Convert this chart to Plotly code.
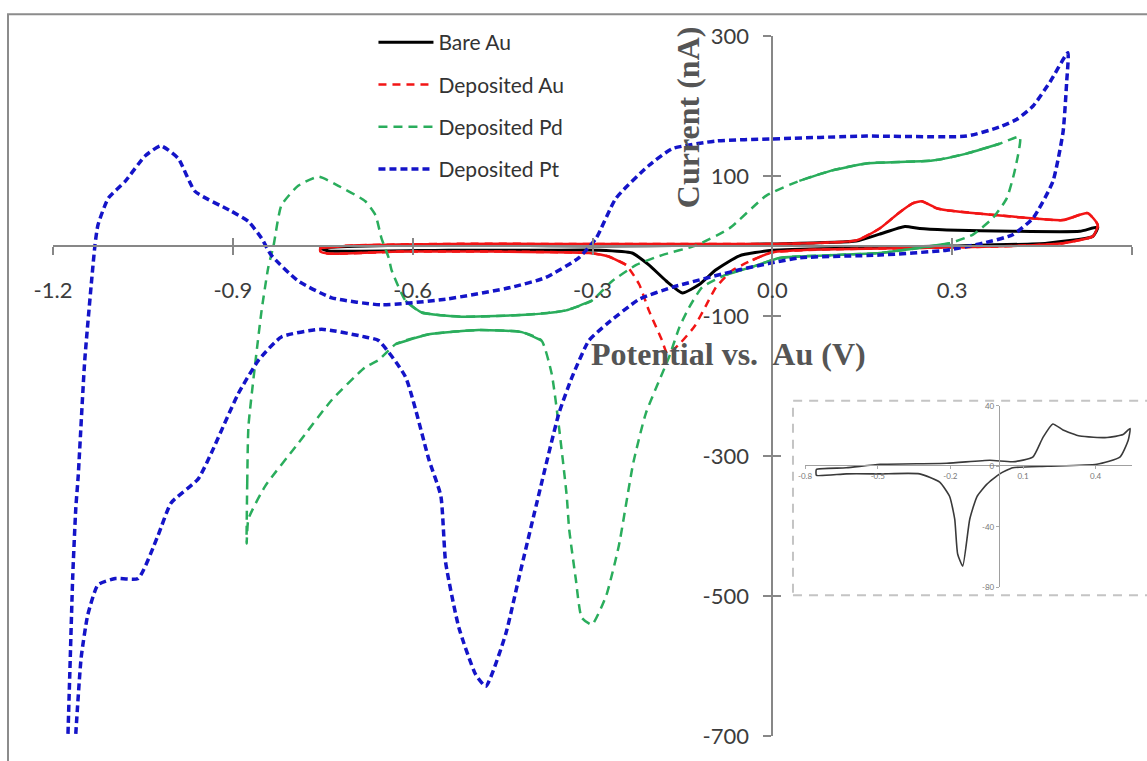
import plotly.graph_objects as go

# ---------------- data (potential V, current nA) ----------------
bare_x = [-0.754, -0.623, -0.456, -0.289, -0.122, 0.0, 0.140, 0.179, 0.221, 0.246, 0.291, 0.401, 0.513, 0.543,
          0.535, 0.458, 0.291, 0.129, 0.0, -0.055, -0.094, -0.122, -0.150, -0.177, -0.206, -0.234, -0.289,
          -0.373, -0.540, -0.740, -0.754]
bare_y = [-3, 1, 1, 0, 1, 3, 7, 17, 28, 25, 23, 21, 21, 27,
          14, 4, 0, -3, -6, -14, -34, -55, -67, -50, -27, -10, -6,
          -6, -6, -7, -3]

au_x = [-0.754, -0.690, -0.540, -0.373, -0.206, 0.012, 0.140, 0.179, 0.212, 0.234, 0.249, 0.274, 0.291, 0.401,
        0.485, 0.526, 0.543, 0.535, 0.485, 0.401, 0.234, 0.080, 0.0, -0.033, -0.067, -0.094, -0.110, -0.130,
        -0.155, -0.175, -0.184, -0.206, -0.222, -0.244, -0.273, -0.306, -0.456, -0.623, -0.740, -0.754, -0.754]
au_y = [-3, 1, 3, 3, 3, 3, 8, 25, 48, 61, 64, 54, 51, 42,
        37, 47, 30, 14, 4, 0, -3, -5, -9, -20, -35, -59, -84, -115,
        -140, -154, -135, -92, -55, -27, -15, -10, -8, -8, -11, -8, -3]

pd_x = [-0.877, -0.876, -0.874, -0.862, -0.852, -0.841, -0.832, -0.819, -0.791, -0.757, -0.724, -0.679,
        -0.662, -0.652, -0.640, -0.635, -0.612, -0.585, -0.518, -0.406, -0.344, -0.301, -0.267, -0.227,
        -0.184, -0.127, -0.072, -0.010, 0.045, 0.100, 0.157, 0.267, 0.324, 0.379, 0.413,
        0.404, 0.391, 0.368, 0.334, 0.296, 0.179, 0.012, -0.027, -0.077, -0.117, -0.139, -0.155, -0.172,
        -0.211, -0.232, -0.256, -0.277, -0.301, -0.318, -0.328, -0.339, -0.343, -0.356, -0.368, -0.385,
        -0.418, -0.490, -0.573, -0.628, -0.657, -0.679, -0.735, -0.791, -0.846, -0.874, -0.877]
pd_y = [-425, -339, -258, -163, -92, -31, 1, 58, 86, 99, 86, 64,
        44, 11, -17, -35, -78, -95, -101, -98, -92, -78, -50, -27,
        -13, 1, 25, 72, 93, 108, 118, 122, 132, 146, 156,
        106, 68, 40, 16, 4, -10, -17, -28, -41, -59, -88, -116, -158,
        -239, -310, -428, -499, -541, -531, -475, -404, -357, -258, -183, -135,
        -123, -120, -126, -140, -163, -173, -220, -282, -343, -390, -425]

pt_x = [-1.175, -1.172, -1.167, -1.162, -1.158, -1.147, -1.130, -1.125, -1.108, -1.080, -1.046, -1.020,
        -0.991, -0.963, -0.903, -0.874, -0.852, -0.836, -0.791, -0.735, -0.652, -0.545, -0.435, -0.378,
        -0.323, -0.294, -0.261, -0.206, -0.167, -0.094, 0.0, 0.157, 0.324, 0.379, 0.408, 0.435, 0.463, 0.493,
        0.491, 0.485, 0.468, 0.435, 0.401, 0.351, 0.291, 0.179, 0.045, -0.055, -0.167, -0.222, -0.277,
        -0.306, -0.334, -0.356, -0.389, -0.423, -0.445, -0.478, -0.495, -0.523, -0.545, -0.553, -0.573,
        -0.612, -0.657, -0.679, -0.752, -0.819, -0.857, -0.891, -0.936, -0.958, -1.003, -1.025, -1.058,
        -1.096, -1.125, -1.142, -1.153, -1.162]
pt_y = [-697, -612, -470, -375, -329, -163, 1, 30, 68, 92, 129, 143,
        125, 78, 50, 35, 11, -13, -50, -74, -84, -76, -59, -45,
        -17, 11, 68, 115, 139, 150, 153, 157, 157, 170, 181, 200, 234, 276,
        234, 163, 92, 40, 16, 4, -6, -13, -17, -34, -59, -76, -112,
        -135, -187, -239, -353, -475, -555, -629, -612, -545, -452, -357, -305,
        -187, -135, -130, -119, -130, -163, -211, -296, -333, -367, -414, -475,
        -475, -484, -527, -588, -697]

# inset: bare Au, magnified
inset_x = [-0.755, -0.753, -0.63, -0.49, -0.215, -0.037, 0.058, 0.14, 0.182, 0.223, 0.265, 0.335, 0.447,
           0.513, 0.542, 0.534, 0.5, 0.405, 0.2, 0.058, 0.004, -0.05, -0.09, -0.12, -0.149, -0.17, -0.182,
           -0.203, -0.244, -0.327, -0.49, -0.63, -0.753, -0.755]
inset_y = [-4, -2, -1, 1.3, 2, 4, 3, 6, 19, 28, 24, 20, 19,
           21, 25, 17, 6, 1.3, 0, -1, -5, -12, -20, -35, -66, -58, -35,
           -20, -10.5, -5, -5, -5, -6, -4]

series_names = ["Bare Au", "Deposited Au", "Deposited Pd", "Deposited Pt"]

# tick values / labels
x_ticks = [-1.2, -0.9, -0.6, -0.3, 0.0, 0.3, 0.6]
x_labels = ["-1.2", "-0.9", "-0.6", "-0.3", "0.0", "0.3", "0.6"]
y_ticks = [-700, -500, -300, -100, 100, 300]
y_labels = ["-700", "-500", "-300", "-100", "100", "300"]
inset_x_ticks = [-0.8, -0.5, -0.2, 0.1, 0.4]
inset_x_labels = ["-0.8", "-0.5", "-0.2", "0.1", "0.4"]
inset_y_ticks = [-80, -40, 0, 40]
inset_y_labels = ["-80", "-40", "0", "40"]

# index ranges of loops that appear as continuous (solid) strokes
AU_SOLID = [(0, 24), (33, 41)]
PD_SOLID = [(16, 22), (28, 34), (39, 44), (59, 64)]

# ---------------- figure ----------------
fig = go.Figure()
RED, GREEN, BLUE = "#f21515", "#2aad5c", "#1414c8"

fig.add_trace(go.Scatter(x=bare_x, y=bare_y, name=series_names[0], mode="lines",
                         line=dict(color="black", width=3, shape="spline", smoothing=0.5),
                         legendgroup="a", legendrank=1))
fig.add_trace(go.Scatter(x=au_x, y=au_y, name=series_names[1], mode="lines",
                         line=dict(color=RED, width=2.5, dash="8px,6px", shape="spline", smoothing=0.5),
                         legendgroup="b", legendrank=2))
for a, b in AU_SOLID:
    fig.add_trace(go.Scatter(x=au_x[a:b], y=au_y[a:b], mode="lines", showlegend=False, legendgroup="b",
                             line=dict(color=RED, width=2.5, shape="spline", smoothing=0.5), hoverinfo="skip"))
fig.add_trace(go.Scatter(x=pd_x, y=pd_y, name=series_names[2], mode="lines",
                         line=dict(color=GREEN, width=2.5, dash="9px,6px", shape="spline", smoothing=0.5),
                         legendgroup="c", legendrank=3))
for a, b in PD_SOLID:
    fig.add_trace(go.Scatter(x=pd_x[a:b], y=pd_y[a:b], mode="lines", showlegend=False, legendgroup="c",
                             line=dict(color=GREEN, width=2.5, shape="spline", smoothing=0.5), hoverinfo="skip"))
fig.add_trace(go.Scatter(x=pt_x, y=pt_y, name=series_names[3], mode="lines",
                         line=dict(color=BLUE, width=3.5, dash="7px,4px", shape="spline", smoothing=0.5),
                         legendgroup="d", legendrank=4))

# helper trace for cross-tick overlay axes
fig.add_trace(go.Scatter(x=[None], y=[None], xaxis="x2", yaxis="y2", showlegend=False, hoverinfo="skip"))
# inset
fig.add_trace(go.Scatter(x=inset_x, y=inset_y, xaxis="x3", yaxis="y3", mode="lines", showlegend=False,
                         line=dict(color="#3a3a3a", width=1.6, shape="spline", smoothing=0.5), hoverinfo="skip"))

AX = "#878787"
TF = dict(family="Lato, Carlito, sans-serif", size=22, color="#3c3c3c")
common = dict(showgrid=False, zeroline=False, showline=True, linecolor=AX, linewidth=2,
              tickcolor=AX, tickwidth=2, ticklen=8)
IF = dict(family="Lato, sans-serif", size=8, color="#777")
fig.update_layout(
    width=1147, height=761,
    margin=dict(l=53, r=15, t=36, b=19),
    paper_bgcolor="white", plot_bgcolor="white",
    xaxis=dict(range=[-1.2, 0.6], anchor="free", position=0.7, ticks="outside", tickmode="array",
               tickvals=x_ticks, ticktext=x_labels, tickfont=TF, ticklabelstandoff=17, **common),
    yaxis=dict(range=[-700, 300], anchor="free", position=1.2 / 1.8, ticks="outside", tickmode="array",
               tickvals=y_ticks, ticktext=y_labels, tickfont=TF, ticklabelstandoff=10, **common),
    xaxis2=dict(range=[-1.2, 0.6], overlaying="x", anchor="free", position=0.7, ticks="inside",
                tickmode="array", tickvals=x_ticks, showticklabels=False, showgrid=False, zeroline=False,
                showline=False, tickcolor=AX, tickwidth=2, ticklen=8),
    yaxis2=dict(range=[-700, 300], overlaying="y", anchor="free", position=1.2 / 1.8, ticks="inside",
                tickmode="array", tickvals=y_ticks, showticklabels=False, showgrid=False, zeroline=False,
                showline=False, tickcolor=AX, tickwidth=2, ticklen=8),
    xaxis3=dict(domain=[0.697, 1.0], range=[-0.8, 0.55], anchor="free", position=0.3867, tickmode="array",
                tickvals=inset_x_ticks, ticktext=inset_x_labels, ticks="outside", ticklen=3, tickcolor="#aaa",
                showgrid=False, zeroline=False, showline=True, linecolor="#a0a0a0", linewidth=1.3, tickfont=IF),
    yaxis3=dict(domain=[0.2125, 0.4717], range=[-80, 40], anchor="free", position=0.8767, tickmode="array",
                tickvals=inset_y_ticks, ticktext=inset_y_labels, ticks="outside", ticklen=3, tickcolor="#aaa",
                showgrid=False, zeroline=False, showline=True, linecolor="#a0a0a0", linewidth=1.3, tickfont=IF),
    legend=dict(x=0.297, y=1.02, xanchor="left", yanchor="top", bgcolor="rgba(0,0,0,0)",
                font=dict(family="Lato, Carlito, sans-serif", size=21, color="#333"),
                tracegroupgap=12, itemwidth=55),
    annotations=[
        dict(text="<b>Current (nA)</b>", xref="paper", yref="paper", x=0.5885, y=0.884, showarrow=False,
             xanchor="center", yanchor="middle", textangle=-90,
             font=dict(family="Liberation Serif, Times New Roman, serif", size=32, color="#555")),
        dict(text="<b>Potential vs.\u00a0 Au (V)</b>", xref="paper", yref="paper", x=0.6256, y=0.5453,
             showarrow=False, xanchor="center", yanchor="middle",
             font=dict(family="Liberation Serif, Times New Roman, serif", size=32, color="#555")),
    ],
    shapes=[
        dict(type="rect", xref="paper", yref="paper", x0=-0.0417, x1=1.03, y0=-0.05, y1=1.0312,
             line=dict(color="#8c8c8c", width=2), layer="below"),
        dict(type="rect", xref="paper", yref="paper", x0=0.6858, x1=1.03, y0=0.2011, y1=0.4788,
             line=dict(color="#c4c4c4", width=2, dash="9px,7px"), layer="below"),
    ],
)

fig.write_html("out.html", config={"displayModeBar": False},
               post_script="document.body.style.margin='0';document.body.style.overflow='hidden';")
